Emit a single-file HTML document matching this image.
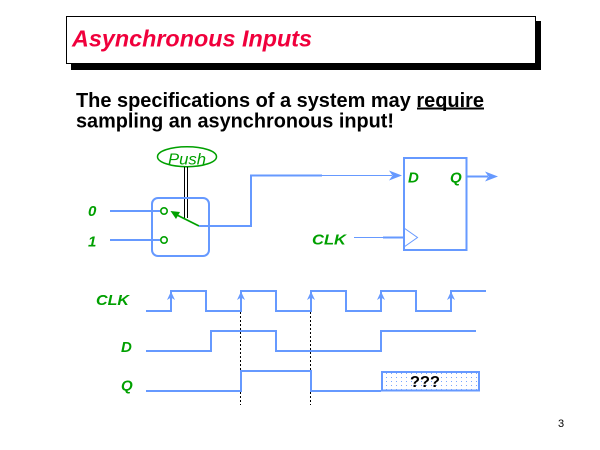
<!DOCTYPE html>
<html><head><meta charset="utf-8"><style>
html,body{margin:0;padding:0;background:#fff;}
svg{display:block;}
text{font-family:"Liberation Sans",Arial,sans-serif;}
.g{fill:#00a000;font-style:italic;font-weight:bold;font-size:15px;}
</style></head><body>
<svg width="600" height="450" viewBox="0 0 600 450" xmlns="http://www.w3.org/2000/svg">
<defs>
<pattern id="dots" width="5" height="4" patternUnits="userSpaceOnUse">
<rect x="1" y="1" width="1" height="1" fill="#7aa6ff"/>
</pattern>
</defs>
<!-- title box -->
<rect x="71" y="21" width="470" height="49" fill="#000"/>
<rect x="66.5" y="16.5" width="469" height="47" fill="#fff" stroke="#000" stroke-width="1"/>
<text x="72" y="46.5" font-size="23" font-weight="bold" font-style="italic" fill="#f0003c" textLength="240" lengthAdjust="spacingAndGlyphs">Asynchronous Inputs</text>
<!-- subtitle -->
<text x="76" y="107" font-size="20" font-weight="bold" fill="#000" textLength="408" lengthAdjust="spacingAndGlyphs">The specifications of a system may require</text>
<rect x="417" y="107.5" width="67" height="2" fill="#000"/>
<text x="76" y="127.5" font-size="20" font-weight="bold" fill="#000" textLength="318" lengthAdjust="spacingAndGlyphs">sampling an asynchronous input!</text>

<!-- Push button -->
<ellipse cx="187" cy="156.7" rx="29.5" ry="10" fill="none" stroke="#00a000" stroke-width="1.5"/>
<text x="168" y="164.5" font-size="16" font-style="italic" fill="#00a000" textLength="38" lengthAdjust="spacingAndGlyphs">Push</text>
<line x1="184.5" y1="167" x2="184.5" y2="218" stroke="#000" stroke-width="1"/>
<line x1="187.5" y1="167" x2="187.5" y2="218" stroke="#000" stroke-width="1"/>

<!-- switch box -->
<rect x="152" y="198" width="57" height="58" rx="6" ry="6" fill="none" stroke="#6699ff" stroke-width="2"/>
<line x1="110" y1="211" x2="160" y2="211" stroke="#6699ff" stroke-width="2"/>
<line x1="110" y1="240" x2="160" y2="240" stroke="#6699ff" stroke-width="2"/>
<circle cx="164" cy="211" r="3.2" fill="#fff" stroke="#00a000" stroke-width="1.6"/>
<circle cx="164" cy="240" r="3.2" fill="#fff" stroke="#00a000" stroke-width="1.6"/>
<line x1="199" y1="226" x2="176" y2="214.5" stroke="#00a000" stroke-width="1.8"/>
<polygon points="170.5,211 180,212 176,219" fill="#00a000"/>
<text class="g" x="88" y="216">0</text>
<text class="g" x="88" y="246.5">1</text>

<!-- output wire -->
<polyline points="199,226 251,226 251,175.5 322,175.5" fill="none" stroke="#6699ff" stroke-width="2"/>
<line x1="322" y1="175.5" x2="392" y2="175.5" stroke="#6699ff" stroke-width="1"/>
<polygon points="402,175.5 389,170.5 392.5,175.5 389,180.5" fill="#6699ff"/>

<!-- flip flop -->
<rect x="404" y="158" width="62.5" height="92" fill="none" stroke="#6699ff" stroke-width="2"/>
<text class="g" x="408" y="182.5">D</text>
<text class="g" x="450" y="182.5">Q</text>
<polyline points="404,228 417.5,237.5 404,247" fill="none" stroke="#6699ff" stroke-width="1"/>
<line x1="466.5" y1="176.5" x2="488" y2="176.5" stroke="#6699ff" stroke-width="2"/>
<polygon points="498,176.5 485,171.5 488.5,176.5 485,181.5" fill="#6699ff"/>
<text class="g" x="312" y="244.5" textLength="34" lengthAdjust="spacingAndGlyphs">CLK</text>
<line x1="354" y1="237.5" x2="383" y2="237.5" stroke="#6699ff" stroke-width="1"/>
<line x1="383" y1="237.5" x2="404" y2="237.5" stroke="#6699ff" stroke-width="2"/>

<!-- timing labels -->
<text class="g" x="96" y="305" textLength="33" lengthAdjust="spacingAndGlyphs">CLK</text>
<text class="g" x="121" y="352">D</text>
<text class="g" x="121" y="390.5">Q</text>

<!-- dotted lines -->
<line x1="240.5" y1="312" x2="240.5" y2="405" stroke="#000" stroke-width="1" stroke-dasharray="2,2"/>
<line x1="310.5" y1="312" x2="310.5" y2="405" stroke="#000" stroke-width="1" stroke-dasharray="2,2"/>

<!-- CLK waveform -->
<polyline points="146,311 171,311 171,291 206,291 206,311 241,311 241,291 276,291 276,311 311,311 311,291 346,291 346,311 381,311 381,291 416,291 416,311 451,311 451,291 486,291" fill="none" stroke="#6699ff" stroke-width="2"/>
<g fill="#6699ff">
<polygon points="171,291.5 167,300 171,297.5 175,300"/>
<polygon points="241,291.5 237,300 241,297.5 245,300"/>
<polygon points="311,291.5 307,300 311,297.5 315,300"/>
<polygon points="381,291.5 377,300 381,297.5 385,300"/>
<polygon points="451,291.5 447,300 451,297.5 455,300"/>
</g>

<!-- D waveform -->
<polyline points="146,351 211,351 211,331 276,331 276,351 381,351 381,331 476,331" fill="none" stroke="#6699ff" stroke-width="2"/>

<!-- Q waveform -->
<polyline points="146,391 241,391 241,371 311,371 311,391 381,391" fill="none" stroke="#6699ff" stroke-width="2"/>
<rect x="382" y="372" width="97" height="18.5" fill="url(#dots)" stroke="#6699ff" stroke-width="2"/>
<text x="410" y="387" font-size="16" font-weight="bold" fill="#000" textLength="30" lengthAdjust="spacingAndGlyphs">???</text>

<!-- page number -->
<text x="558" y="427" font-size="11" fill="#000">3</text>
</svg>
</body></html>
